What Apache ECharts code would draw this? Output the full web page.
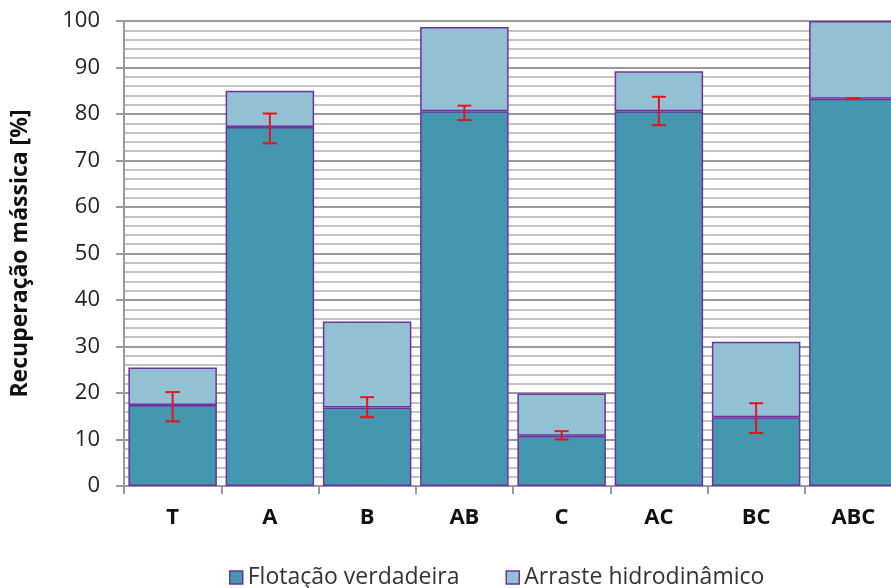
<!DOCTYPE html>
<html><head><meta charset="utf-8">
<script src="https://cdn.jsdelivr.net/npm/echarts@6/dist/echarts.min.js"></script>
<style>html,body{margin:0;padding:0;background:#fff;overflow:hidden;width:891px;height:588px}#c{width:902px;height:588px}</style>
</head><body><div id="c"></div>
<script>
const categories = ['T','A','B','AB','C','AC','BC','ABC'];
const flotacao = [17.4, 77.2, 16.9, 80.6, 10.8, 80.6, 14.8, 83.3];
const totalTop = [25.5, 85.0, 35.4, 98.7, 19.9, 89.2, 31.0, 100.0];
const arraste = totalTop.map((t, i) => +(t - flotacao[i]).toFixed(2));
const errHigh = [20.2, 80.1, 19.1, 81.8, 11.8, 83.7, 17.8, 83.4];
const errLow = [13.9, 73.7, 14.8, 78.7, 10.0, 77.6, 11.4, 83.2];

const font = 'Open Sans';
const chart = echarts.init(document.getElementById('c'), null, {renderer: 'canvas'});
chart.setOption({
  animation: false,
  grid: {left: 124, right: 0, top: 21, bottom: 102, containLabel: false},
  legend: {
    bottom: -6, left: 224, itemGap: 46, itemWidth: 13, itemHeight: 13,
    textStyle: {fontFamily: font, fontSize: 23, color: '#333'},
    data: [
      {name: 'Flotação verdadeira', icon: 'rect', itemStyle: {color: '#4397AE', borderColor: '#7030A0', borderWidth: 1.5}},
      {name: 'Arraste hidrodinâmico', icon: 'rect', itemStyle: {color: '#92C1D3', borderColor: '#7030A0', borderWidth: 1.5}}
    ]
  },
  xAxis: {
    type: 'category', data: categories,
    axisLine: {lineStyle: {color: '#999', width: 2}},
    axisTick: {show: true, length: 8, lineStyle: {color: '#999', width: 2}},
    axisLabel: {fontFamily: font, fontSize: 22, fontWeight: 'bold', color: '#111', margin: 21}
  },
  yAxis: {
    type: 'value', min: 0, max: 100, interval: 10,
    name: 'Recuperação mássica [%]', nameLocation: 'middle', nameGap: 92, nameRotate: 90,
    nameTextStyle: {fontFamily: font, fontSize: 23, fontWeight: 'bold', color: '#111'},
    axisLine: {show: true, lineStyle: {color: '#999', width: 2}},
    axisTick: {show: true, length: 8, lineStyle: {color: '#999', width: 2}},
    axisLabel: {fontFamily: font, fontSize: 22, color: '#222', margin: 24},
    splitLine: {show: true, lineStyle: {color: '#9a9a9a', width: 2}},
    minorTick: {show: false, splitNumber: 5},
    minorSplitLine: {show: true, lineStyle: {color: '#c4c4c4', width: 2}}
  },
  series: [
    {name: 'Flotação verdadeira', type: 'bar', stack: 's', data: flotacao, barCategoryGap: '9%',
     itemStyle: {color: '#4397AE', borderColor: '#7030A0', borderWidth: 1.5}},
    {name: 'Arraste hidrodinâmico', type: 'bar', stack: 's', data: arraste,
     itemStyle: {color: '#92C1D3', borderColor: '#7030A0', borderWidth: 1.5}},
    {name: 'err', type: 'custom', z: 10,
     data: categories.map((c, i) => [i, errLow[i], errHigh[i]]),
     renderItem: function (params, api) {
       const x = api.value(0);
       const lo = api.coord([x, api.value(1)]);
       const hi = api.coord([x, api.value(2)]);
       const hw = 7;
       const st = {stroke: '#E8141B', lineWidth: 2};
       return {type: 'group', children: [
         {type: 'line', shape: {x1: hi[0], y1: hi[1], x2: lo[0], y2: lo[1]}, style: st},
         {type: 'line', shape: {x1: hi[0]-hw, y1: hi[1], x2: hi[0]+hw, y2: hi[1]}, style: st},
         {type: 'line', shape: {x1: lo[0]-hw, y1: lo[1], x2: lo[0]+hw, y2: lo[1]}, style: st}
       ]};
     }}
  ]
});
</script></body></html>
